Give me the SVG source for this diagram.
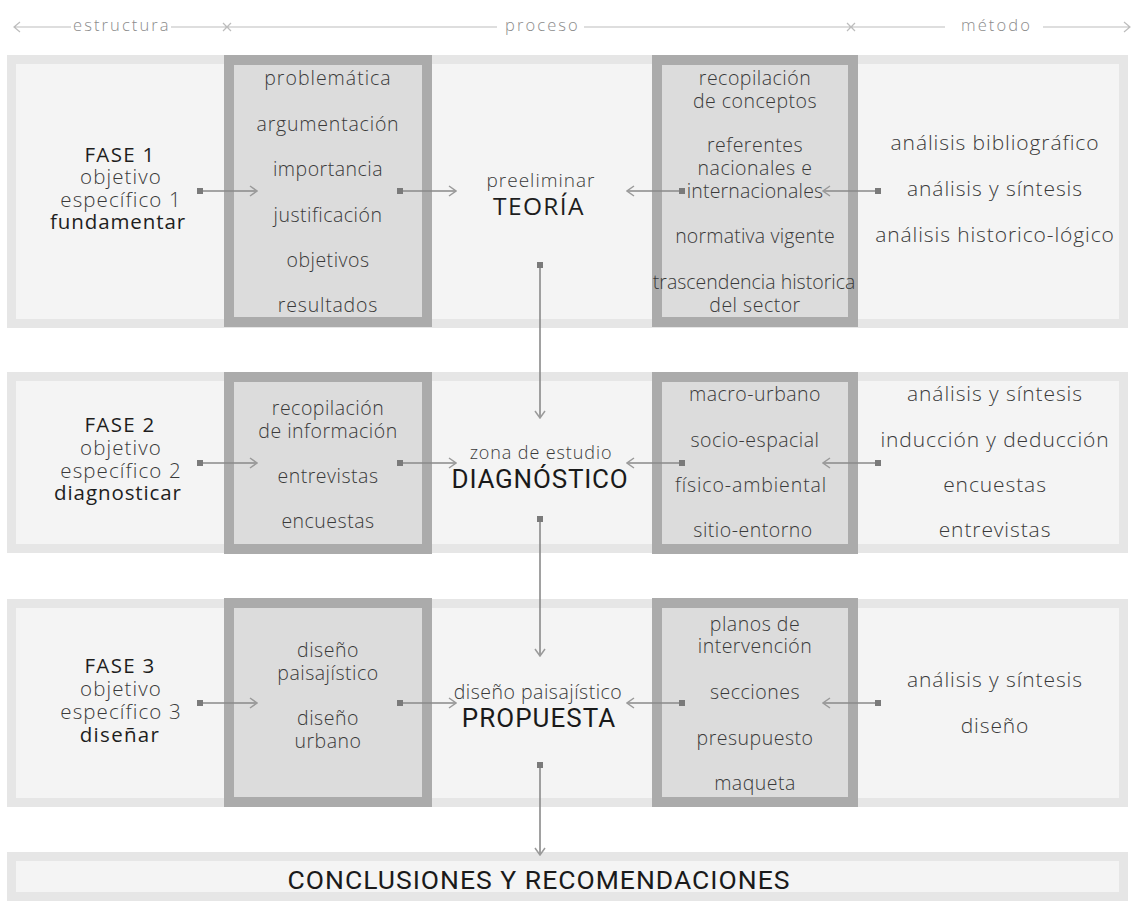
<svg xmlns="http://www.w3.org/2000/svg" width="1135" height="908" viewBox="0 0 1135 908">
<style>
.band{fill:#f4f4f4;stroke:#e6e6e6;stroke-width:9}
.box{fill:#dcdcdc;stroke:#ababab;stroke-width:10}
.t{font-family:"Open Sans",Inter,sans-serif;font-weight:300;fill:#3a3a3a;text-anchor:middle}
.s{font-size:19.5px;letter-spacing:0.5px}
.m{font-size:21px;letter-spacing:0.9px}
.l{font-size:20.5px;letter-spacing:1.1px}
.d{font-family:"Open Sans",Inter,sans-serif;font-weight:500;fill:#1e1e1e;text-anchor:middle;font-size:20.5px;letter-spacing:1.3px}
.big{font-family:Roboto,"Liberation Sans",sans-serif;font-weight:400;fill:#1a1a1a;text-anchor:middle;font-size:26px;letter-spacing:0.8px}
.h{font-family:"Open Sans",Inter,sans-serif;font-weight:300;fill:#8c8c8c;font-size:16.5px;letter-spacing:2.1px}
.hl{stroke:#bdbdbd;stroke-width:1.2;fill:none}
.con{stroke:#8a8a8a;stroke-width:1.6;fill:none;marker-start:url(#dot);marker-end:url(#arr)}
</style>
<defs>
<marker id="dot" viewBox="0 0 6 6" refX="3" refY="3" markerWidth="6" markerHeight="6" markerUnits="userSpaceOnUse" orient="auto">
<rect x="0" y="0" width="6" height="6" fill="#7a7a7a"/>
</marker>
<marker id="arr" viewBox="0 0 10 12" refX="9" refY="6" markerWidth="10" markerHeight="12" markerUnits="userSpaceOnUse" orient="auto">
<path d="M2,1 L9,6 L2,11" fill="none" stroke="#9a9a9a" stroke-width="1.5"/>
</marker>
</defs>
<rect width="1135" height="908" fill="#ffffff"/>

<g id="header">
<path class="hl" d="M14,27 H71 M20,22 L14,27 L20,32"/>
<text class="h" x="73" y="31">estructura</text>
<path class="hl" d="M171,27 H497 M223,23 L231,31 M231,23 L223,31"/>
<text class="h" x="505" y="31">proceso</text>
<path class="hl" d="M584,27 H945 M847,23 L855,31 M855,23 L847,31"/>
<text class="h" x="961" y="31">método</text>
<path class="hl" d="M1043,27 H1130 M1124,22 L1130,27 L1124,32"/>
</g>

<g id="bands">
<rect class="band" x="11.5" y="59.5" width="1112" height="264"/>
<rect class="band" x="11.5" y="376.5" width="1112" height="172"/>
<rect class="band" x="11.5" y="603.5" width="1112" height="199"/>
<rect class="band" x="11.5" y="856.5" width="1112" height="40"/>
</g>

<g id="fase1">
<text class="d" x="120" y="162">FASE 1</text>
<text class="t l" x="121" y="184">objetivo</text>
<text class="t l" x="121" y="207">específico 1</text>
<text class="d" x="118" y="229" style="letter-spacing:0.9px">fundamentar</text>
</g>
<g id="estructura1">
<rect class="box" x="229" y="60" width="198" height="262"/>
<text class="t s" x="328" y="85" style="letter-spacing:1px">problemática</text>
<text class="t s" x="328" y="131" style="letter-spacing:0.8px">argumentación</text>
<text class="t s" x="328" y="176">importancia</text>
<text class="t s" x="328" y="222">justificación</text>
<text class="t s" x="328" y="267">objetivos</text>
<text class="t s" x="328" y="312" style="letter-spacing:0.8px">resultados</text>
</g>
<g id="teoria">
<text class="t s" x="541" y="187" style="font-size:19px;letter-spacing:1px">preeliminar</text>
<text class="d" x="539" y="215" style="font-size:24.5px;font-weight:400;letter-spacing:1.4px">TEORÍA</text>
</g>
<g id="metodo1box">
<rect class="box" x="657" y="60" width="196" height="262"/>
<text class="t s" x="755" y="85">recopilación</text>
<text class="t s" x="755" y="108">de conceptos</text>
<text class="t s" x="755" y="152">referentes</text>
<text class="t s" x="755" y="175">nacionales e</text>
<text class="t s" x="755" y="198" style="letter-spacing:0.2px">internacionales</text>
<text class="t s" x="755" y="243" style="letter-spacing:0.2px">normativa vigente</text>
<text class="t s" x="754" y="289" style="letter-spacing:0px">trascendencia historica</text>
<text class="t s" x="755" y="312">del sector</text>
</g>
<g id="metodo1">
<text class="t m" x="995" y="150">análisis bibliográfico</text>
<text class="t m" x="995" y="196">análisis y síntesis</text>
<text class="t m" x="995" y="242">análisis historico-lógico</text>
</g>

<g id="fase2">
<text class="d" x="120" y="432">FASE 2</text>
<text class="t l" x="121" y="455">objetivo</text>
<text class="t l" x="121" y="478">específico 2</text>
<text class="d" x="118" y="500" style="letter-spacing:0.9px">diagnosticar</text>
</g>
<g id="estructura2">
<rect class="box" x="229" y="377" width="198" height="172"/>
<text class="t s" x="328" y="415">recopilación</text>
<text class="t s" x="328" y="438">de información</text>
<text class="t s" x="328" y="483">entrevistas</text>
<text class="t s" x="328" y="528">encuestas</text>
</g>
<g id="diagnostico">
<text class="t s" x="541" y="459" style="font-size:18px;letter-spacing:0.9px">zona de estudio</text>
<text class="big" x="540" y="488">DIAGNÓSTICO</text>
</g>
<g id="metodo2box">
<rect class="box" x="657" y="377" width="196" height="172"/>
<text class="t s" x="755" y="401">macro-urbano</text>
<text class="t s" x="755" y="447">socio-espacial</text>
<text class="t s" x="751" y="492" style="letter-spacing:0.9px">físico-ambiental</text>
<text class="t s" x="753" y="537">sitio-entorno</text>
</g>
<g id="metodo2">
<text class="t m" x="995" y="401">análisis y síntesis</text>
<text class="t m" x="995" y="447">inducción y deducción</text>
<text class="t m" x="995" y="492">encuestas</text>
<text class="t m" x="995" y="537">entrevistas</text>
</g>

<g id="fase3">
<text class="d" x="120" y="673">FASE 3</text>
<text class="t l" x="121" y="696">objetivo</text>
<text class="t l" x="121" y="719">específico 3</text>
<text class="d" x="120" y="742">diseñar</text>
</g>
<g id="estructura3">
<rect class="box" x="229" y="603" width="198" height="199"/>
<text class="t s" x="328" y="657">diseño</text>
<text class="t s" x="328" y="680">paisajístico</text>
<text class="t s" x="328" y="725">diseño</text>
<text class="t s" x="328" y="748">urbano</text>
</g>
<g id="propuesta">
<text class="t s" x="538" y="699" style="letter-spacing:0.5px">diseño paisajístico</text>
<text class="big" x="539" y="727" style="letter-spacing:1px">PROPUESTA</text>
</g>
<g id="metodo3box">
<rect class="box" x="657" y="603" width="196" height="199"/>
<text class="t s" x="755" y="631">planos de</text>
<text class="t s" x="755" y="653">intervención</text>
<text class="t s" x="755" y="699">secciones</text>
<text class="t s" x="755" y="745">presupuesto</text>
<text class="t s" x="755" y="790">maqueta</text>
</g>
<g id="metodo3">
<text class="t m" x="995" y="687">análisis y síntesis</text>
<text class="t m" x="995" y="733">diseño</text>
</g>

<g id="conclusiones">
<text class="big" x="539" y="889" style="font-size:26.5px;letter-spacing:1px">CONCLUSIONES Y RECOMENDACIONES</text>
</g>

<g id="connectors">
<path class="con" d="M200,191 H257"/>
<path class="con" d="M400,191 H456"/>
<path class="con" d="M682,191 H627"/>
<path class="con" d="M878,191 H823"/>
<path class="con" d="M540,265 V418"/>
<path class="con" d="M200,463 H257"/>
<path class="con" d="M400,463 H456"/>
<path class="con" d="M682,463 H627"/>
<path class="con" d="M878,463 H823"/>
<path class="con" d="M540,519 V656"/>
<path class="con" d="M200,703 H257"/>
<path class="con" d="M400,703 H456"/>
<path class="con" d="M682,703 H627"/>
<path class="con" d="M878,703 H823"/>
<path class="con" d="M540,765 V855"/>
</g>
</svg>
